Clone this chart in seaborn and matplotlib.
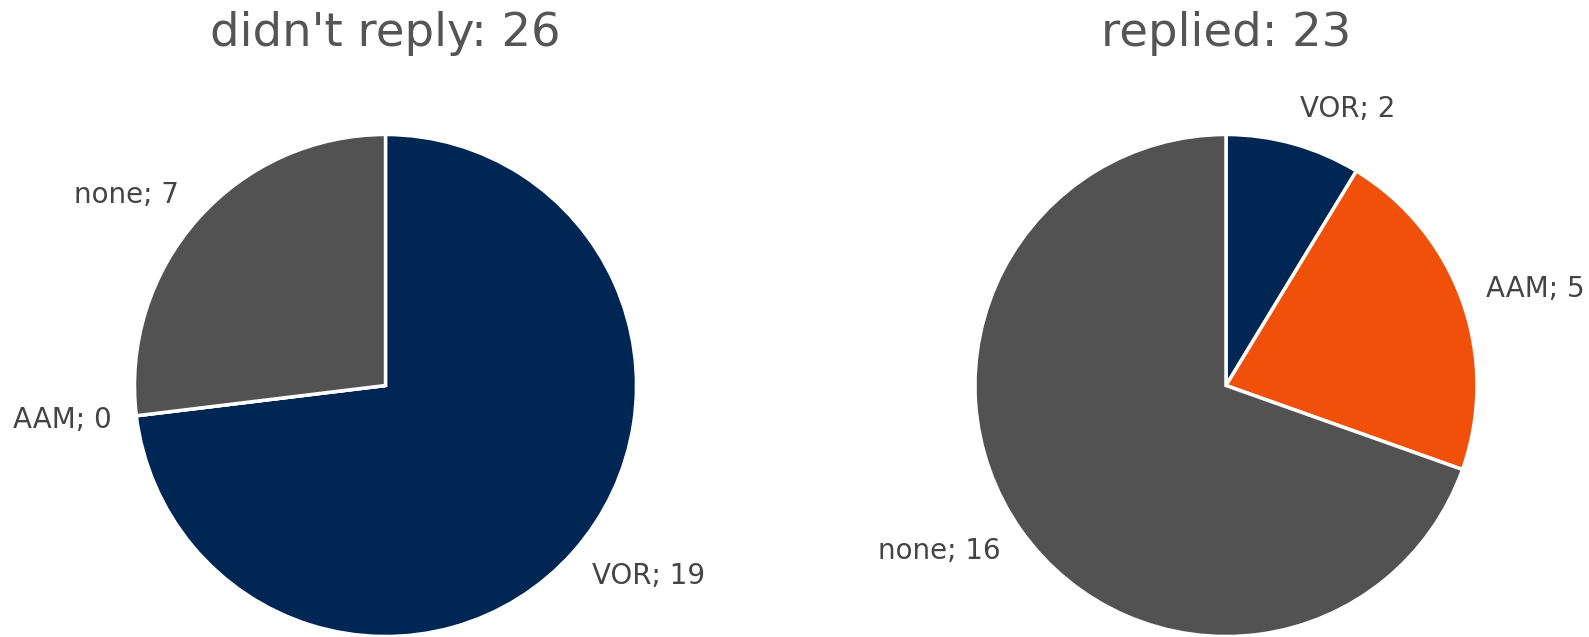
import matplotlib
matplotlib.use("Agg")
import matplotlib.pyplot as plt
import seaborn as sns

sns.set_theme(style="white")
plt.rcParams['font.family'] = ['DejaVu Sans']

categories = ['VOR', 'AAM', 'none']
colors = ['#002654', '#F0500A', '#525252']

no_reply = [19, 0, 7]
replied = [2, 5, 16]

groups = [("didn't reply", no_reply), ('replied', replied)]

fig = plt.figure(figsize=(15.89, 6.37), dpi=100)
W, H = 1589, 637

# pie centre (px) and radius (px) for each panel
centres = [(385.5, 385.5), (1226, 385.5)]
radius = 251

for (name, vals), (cx, cy) in zip(groups, centres):
    ax = fig.add_axes([(cx - radius) / W, (H - cy - radius) / H,
                       2 * radius / W, 2 * radius / H])
    labels = [f'{c}; {v}' for c, v in zip(categories, vals)]
    wedges, texts = ax.pie(vals, labels=labels, colors=colors,
                           startangle=90, counterclock=False,
                           labeldistance=1.1,
                           wedgeprops=dict(edgecolor='white', linewidth=2.5),
                           textprops=dict(fontsize=20, color='#444444'))
    # labels sit a bit further out vertically in the original
    for t in texts:
        x, y = t.get_position()
        t.set_position((x, y * 1.04))
    ax.set_xlim(-1, 1)
    ax.set_ylim(-1, 1)
    ax.set_aspect('equal')
    fig.text(cx / W, 1 - 34 / H, f'{name}: {sum(vals)}', ha='center', va='center',
             fontsize=33.5, color='#555555')

plt.savefig('out.png', dpi=100)
